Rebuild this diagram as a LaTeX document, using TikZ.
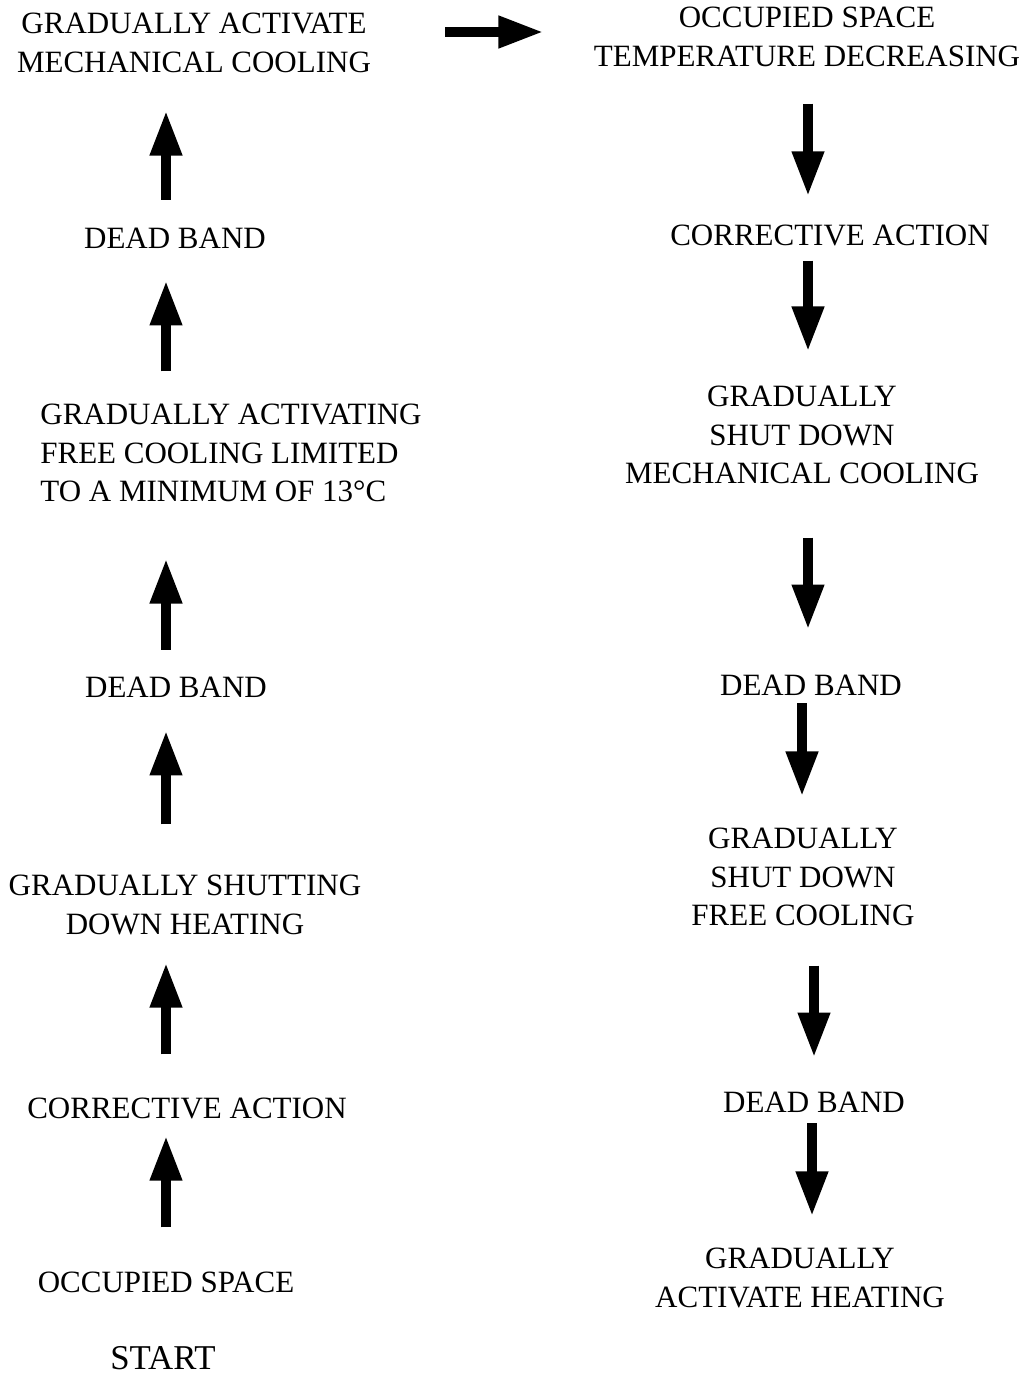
\documentclass[tikz,border=0pt]{standalone}
\usepackage{fontspec}
\setmainfont{Liberation Serif}
\usetikzlibrary{arrows.meta}

\begin{document}
\begin{tikzpicture}[x=0.5pt, y=-0.5pt,
		every node/.style={inner sep=0pt, align=center, font=\fontsize{15.5}{19.25}\selectfont},
		bigarrow/.style={line width=5pt, -{Triangle[length=22.5pt, width=15pt]}}]
			\useasboundingbox (0,0) rectangle (1030,1376);

			% left column
			\node (mech)  at (194,43)   {GRADUALLY ACTIVATE\\MECHANICAL COOLING};
			\node (db1)   at (175,238)  {DEAD BAND};
			\node[align=left] (free) at (231,453) {GRADUALLY ACTIVATING\\FREE COOLING LIMITED\\TO A MINIMUM OF 13°C};
			\node (db2)   at (176,687)  {DEAD BAND};
			\node (shut)  at (185,905)  {GRADUALLY SHUTTING\\DOWN HEATING};
			\node (corr)  at (187,1108) {CORRECTIVE ACTION};
			\node (occ)   at (166,1282) {OCCUPIED SPACE};
			\node (start) at (163,1358) {\fontsize{17.4}{20}\selectfont START};

			% right column
			\node (tr)    at (807,37)   {OCCUPIED SPACE\\TEMPERATURE DECREASING};
			\node (corr2) at (830,235)  {CORRECTIVE ACTION};
			\node (mech2) at (802,435)  {GRADUALLY\\SHUT DOWN\\MECHANICAL COOLING};
			\node (db3)   at (811,685)  {DEAD BAND};
			\node (free2) at (803,877)  {GRADUALLY\\SHUT DOWN\\FREE COOLING};
			\node (db4)   at (814,1102) {DEAD BAND};
			\node (heat)  at (800,1278) {GRADUALLY\\ACTIVATE HEATING};

			\coordinate (cl)   at (166,0);
			\coordinate (cr1)  at (808,0);
			\coordinate (cr2)  at (802,0);
			\coordinate (cr3)  at (814,0);
			\coordinate (cr4)  at (812,0);
			\coordinate (hrow) at (0,32);

			\draw[bigarrow, shorten <=21.9pt, shorten >=8.4pt]  (occ.north -| cl)  -- (corr.south -| cl);
			\draw[bigarrow, shorten <=21.4pt, shorten >=13.75pt] (corr.north -| cl) -- (shut.south -| cl);
			\draw[bigarrow, shorten <=25.25pt, shorten >=16.4pt] (shut.north -| cl) -- (db2.south -| cl);
			\draw[bigarrow, shorten <=13.4pt, shorten >=28.1pt] (db2.north -| cl)  -- (free.south -| cl);
			\draw[bigarrow, shorten <=16.1pt, shorten >=15.9pt] (free.north -| cl) -- (db1.south -| cl);
			\draw[bigarrow, shorten <=13.9pt, shorten >=18.75pt] (db1.north -| cl) -- (mech.south -| cl);

			\draw[bigarrow, shorten <=37pt, shorten >=25pt] (mech.east |- hrow) -- (tr.west |- hrow);

			\draw[bigarrow, shorten <=18.25pt, shorten >=13.9pt] (tr.south -| cr1)    -- (corr2.north -| cr1);
			\draw[bigarrow, shorten <=7.4pt, shorten >=17.1pt]  (corr2.south -| cr1) -- (mech2.north -| cr1);
			\draw[bigarrow, shorten <=26.6pt, shorten >=22.4pt] (mech2.south -| cr1) -- (db3.north -| cr1);
			\draw[bigarrow, shorten <=3.9pt, shorten >=15.6pt]  (db3.south -| cr2)   -- (free2.north -| cr2);
			\draw[bigarrow, shorten <=19.6pt, shorten >=16.9pt] (free2.south -| cr3) -- (db4.north -| cr3);
			\draw[bigarrow, shorten <=5.4pt, shorten >=15.75pt] (db4.south -| cr4)   -- (heat.north -| cr4);

		\end{tikzpicture}
\end{document}
